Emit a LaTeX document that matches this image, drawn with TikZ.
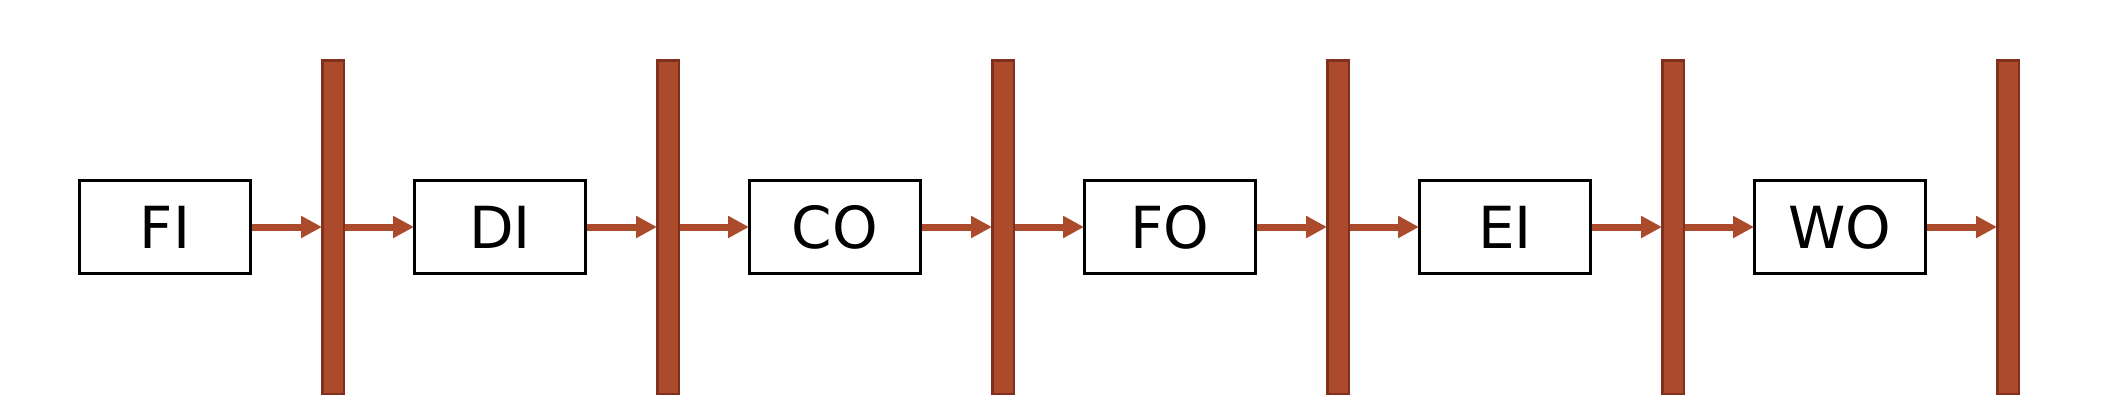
\documentclass[tikz,border=0pt]{standalone}
\usepackage{fontspec}
\setmainfont{DejaVu Sans}
\usetikzlibrary{arrows.meta}
\definecolor{barfill}{RGB}{172,74,44}
\definecolor{barline}{RGB}{128,48,28}
\begin{document}
\begin{tikzpicture}[x=1pt,y=-1pt,
  stagebox/.style={draw=black,line width=3pt,fill=white,minimum width=171pt,minimum height=93pt,inner sep=0pt,font=\fontsize{58}{60}\selectfont,text height=42pt,text depth=0pt},
  latch/.style={draw=barline,line width=2.5pt,fill=barfill,minimum width=21.5pt,minimum height=333.5pt,inner sep=0pt},
  flow/.style={draw=barfill,line width=7pt,-{Triangle[length=21pt,width=21pt]},shorten >=-1pt}]
\useasboundingbox (0,0) rectangle (2124,408);
\foreach \i/\t in {0/FI,1/DI,2/CO,3/FO,4/EI,5/WO}{
  \node[stagebox] (s\i) at ({165+335*\i},227) {\t};
  \node[latch] (b\i) at ({333+335*\i},227) {};
}
\foreach \i in {0,...,5}{
  \draw[flow] (s\i.east) -- (b\i.west);
}
\foreach \i [evaluate=\i as \j using int(\i+1)] in {0,...,4}{
  \draw[flow] (b\i.east) -- (s\j.west);
}
\end{tikzpicture}
\end{document}
